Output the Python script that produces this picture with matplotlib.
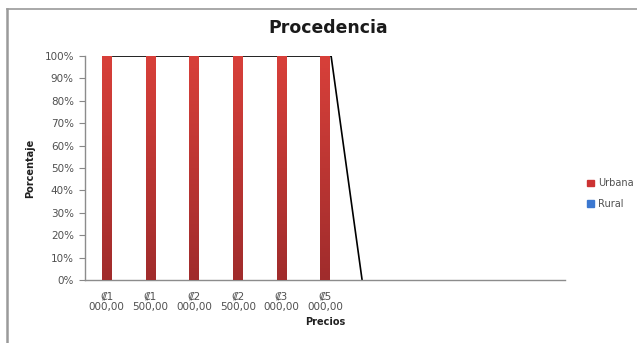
import numpy as np
import matplotlib
matplotlib.use("Agg")
import matplotlib.pyplot as plt
from matplotlib.colors import LinearSegmentedColormap
from matplotlib.patches import Rectangle
from matplotlib.lines import Line2D

plt.rcParams['font.family'] = ['DejaVu Sans']

# Price categories (axis has room for 11 slots, only the first six are labelled)
categories = ["₡1\n000,00", "₡1\n500,00", "₡2\n000,00", "₡2\n500,00",
              "₡3\n000,00", "₡5\n000,00", "", "", "", "", ""]
urbana = [100, 100, 100, 100, 100, 100]
rural = [0, 0, 0, 0, 0, 0]
# Black trend line: position (in category units) and value
line_pos = [0.14, 1.14, 2.14, 3.14, 4.14, 5.14, 5.85]
line_val = [100, 100, 100, 100, 100, 100, 0]

fig = plt.figure(figsize=(6.37, 3.43), dpi=100)
ax = fig.add_axes([0.1334, 0.1837, 0.7536, 0.653])

n = len(categories)
bar_w = 0.22
cmap = LinearSegmentedColormap.from_list("red_grad", ["#a02c2c", "#d8403a"])
grad = np.linspace(0, 1, 256).reshape(-1, 1)

ax.plot(line_pos, line_val, color="black", lw=1.2, zorder=2)

for i, v in enumerate(urbana):
    x0 = i - bar_w / 2
    im = ax.imshow(grad, cmap=cmap, origin="lower", aspect="auto",
                   extent=(x0, x0 + bar_w, 0, v), zorder=3)
    rect = Rectangle((x0, 0), bar_w, v, transform=ax.transData,
                     facecolor="none", edgecolor="none")
    ax.add_patch(rect)
    im.set_clip_path(rect)
for i, v in enumerate(rural):
    ax.bar(i + bar_w, v, width=bar_w, color="#3c78d0", zorder=3)

ax.set_xlim(-0.5, n - 0.5)
ax.set_ylim(0, 100)

ax.set_yticks(np.arange(0, 101, 10))
ax.set_yticklabels([f"{t}%" for t in range(0, 101, 10)], fontsize=7.5, color="#505050")
ax.set_xticks(np.arange(n))
ax.set_xticklabels(categories, fontsize=7.5, color="#505050", linespacing=1.05)
ax.tick_params(axis="x", length=0, pad=8)
ax.tick_params(axis="y", length=4, color="#888888", width=0.8, pad=4)

for s in ["top", "right"]:
    ax.spines[s].set_visible(False)
for s in ["left", "bottom"]:
    ax.spines[s].set_color("#8c8c8c")
    ax.spines[s].set_linewidth(1.0)

ax.set_ylabel("Porcentaje", fontsize=7, fontweight="bold", color="#202020", labelpad=7)
ax.set_xlabel("Precios", fontsize=7, fontweight="bold", color="#202020", labelpad=4)
fig.text(0.515, 0.918, "Procedencia", ha="center", va="center",
         fontsize=12.4, fontweight="bold", color="#1a1a1a")

handles = [Rectangle((0, 0), 1, 1, color="#cc3333"),
           Rectangle((0, 0), 1, 1, color="#3c78d0")]
fig.legend(handles, ["Urbana", "Rural"], loc="center left",
           bbox_to_anchor=(0.908, 0.435), frameon=False, fontsize=7,
           handlelength=0.7, handleheight=0.7, handletextpad=0.4,
           labelspacing=1.1, labelcolor="#505050")

# Outer frame lines along the top and left edges
fig.add_artist(Line2D([0.011, 0.011], [0, 0.973], transform=fig.transFigure,
                      color="#9a9a9a", lw=1.8))
fig.add_artist(Line2D([0.011, 1.0], [0.973, 0.973], transform=fig.transFigure,
                      color="#9a9a9a", lw=1.2))

fig.savefig("out.png", dpi=100)
